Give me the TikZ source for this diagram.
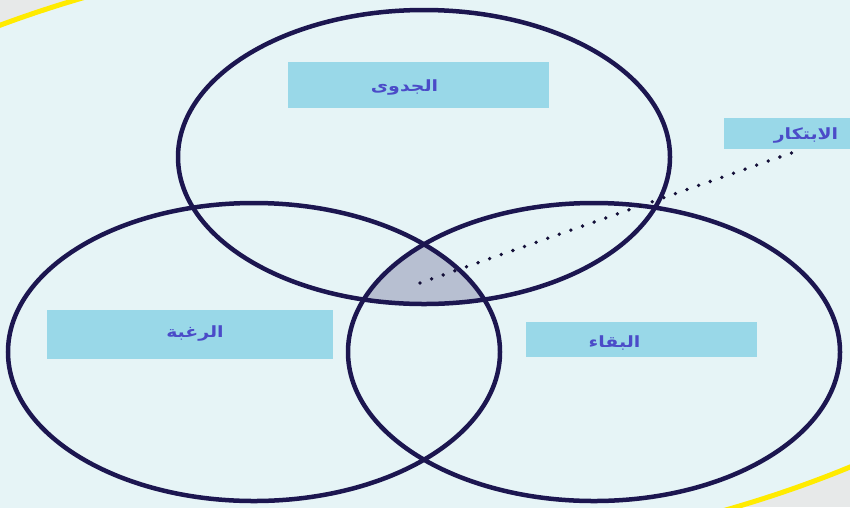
\documentclass[tikz,border=0pt]{standalone}
\usepackage{fontspec}
\newfontfamily\arabicfont[Script=Arabic, FakeStretch=1.22]{DejaVu Sans}
\TeXXeTstate=1
\usetikzlibrary{positioning}
\definecolor{pagegray}{HTML}{E7E9E9}
\definecolor{panelblue}{HTML}{E6F4F6}
\definecolor{frameyellow}{HTML}{FFEB00}
\definecolor{ringnavy}{HTML}{1C1650}
\definecolor{coreshade}{HTML}{B7BFD1}
\definecolor{tagblue}{HTML}{99D8E8}
\definecolor{tagtext}{HTML}{4B4BC8}
\newcommand{\artext}[1]{{\arabicfont\bfseries\beginR #1\endR}}

\begin{document}
\begin{tikzpicture}[x=1pt, y=-1pt,
    ring/.style={draw=ringnavy, line width=4.5pt},
    tagbox/.style={fill=tagblue, draw=none, inner sep=0pt},
    tagtxt/.style={text=tagtext, font=\fontsize{15.5}{18}\selectfont, inner sep=0pt}]
  \useasboundingbox (0,0) rectangle (850,507);
  % page and tilted yellow frame
  \fill[pagegray] (0,0) rectangle (850,507);
  \coordinate (cframe) at (407.5,253);
  \filldraw[fill=panelblue, draw=frameyellow, line width=5pt, rotate around={5:(cframe)}]
    (cframe) ellipse [x radius=719, y radius=311];
  % centres of the three rings
  \coordinate (ctop) at (424,157);
  \coordinate (cleft) at (254,352);
  \coordinate (cright) at (594,352);
  % shared core of all three
  \begin{scope}
    \clip (ctop) ellipse [x radius=246, y radius=147];
    \clip (cleft) ellipse [x radius=246, y radius=149];
    \fill[coreshade] (cright) ellipse [x radius=246, y radius=149];
  \end{scope}
  % rings
  \draw[ring] (ctop) ellipse [x radius=246, y radius=147];
  \draw[ring] (cleft) ellipse [x radius=246, y radius=149];
  \draw[ring] (cright) ellipse [x radius=246, y radius=149];
  % tags
  \node[tagbox, minimum width=261pt, minimum height=46pt] (utility) at (418.5,85) {};
  \node[tagtxt] at ([xshift=-14pt, yshift=-2pt]utility.center) {\artext{الجدوى}};
  \node[tagbox, minimum width=286pt, minimum height=49pt] (desire) at (190,334.5) {};
  \node[tagtxt] at ([xshift=5pt, yshift=1.5pt]desire.center) {\artext{الرغبة}};
  \node[tagbox, minimum width=231pt, minimum height=35pt] (survival) at (641.5,339.5) {};
  \node[tagtxt] at ([xshift=-27pt, yshift=-3.5pt]survival.center) {\artext{البقاء}};
  \node[tagbox, minimum width=164pt, minimum height=31pt] (innovation) at (806,133.5) {};
  \node[tagtxt] at ([yshift=-1.5pt]innovation.center) {\artext{الابتكار}};
  % pointer from the core
  \coordinate (corept) at (420,283);
  \coordinate (tagpt) at (797,151);
  \draw[ringnavy!70!black, line width=3.8pt, line cap=round, dash pattern=on 0pt off 12.3pt] (corept) -- (tagpt);
\end{tikzpicture}
\end{document}
